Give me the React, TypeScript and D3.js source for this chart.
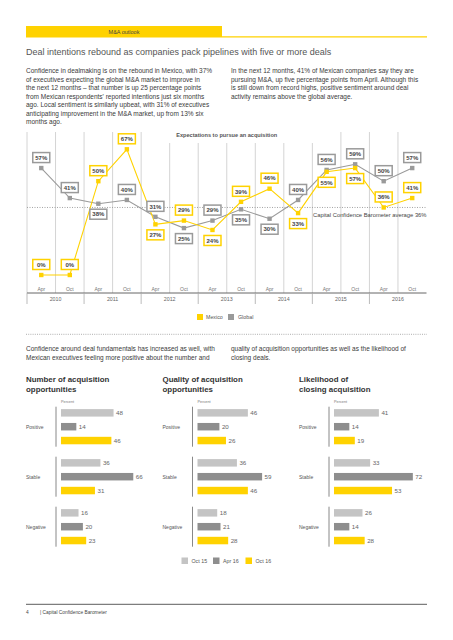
import React from 'react';
import * as d3 from 'd3';

// ---------- DATA ----------
const years = ['2010', '2011', '2012', '2013', '2014', '2015', '2016'];
const months = ['Apr', 'Oct'];
const mexico = [0, 0, 50, 67, 27, 29, 24, 39, 46, 33, 55, 57, 36, 41];
const global = [57, 41, 38, 40, 31, 25, 29, 35, 30, 40, 56, 59, 50, 57];
const averageValue = 36;

const barCategories = ['Positive', 'Stable', 'Negative'];
const barSeries = ['Oct 15', 'Apr 16', 'Oct 16'];
const numberOpp = [[48, 14, 46], [36, 66, 31], [16, 20, 23]];
const qualityOpp = [[46, 20, 26], [36, 59, 46], [18, 21, 28]];
const likelihood = [[41, 14, 19], [33, 72, 53], [26, 14, 28]];
const panelTitles = [
  ['Number of acquisition', 'opportunities'],
  ['Quality of acquisition', 'opportunities'],
  ['Likelihood of', 'closing acquisition'],
];

const para1Left = [
  'Confidence in dealmaking is on the rebound in Mexico, with 37%',
  'of executives expecting the global M&A market to improve in',
  'the next 12 months \u2013 that number is up 25 percentage points',
  "from Mexican respondents' reported intentions just six months",
  'ago. Local sentiment is similarly upbeat, with 31% of executives',
  'anticipating improvement in the M&A market, up from 13% six',
  'months ago.',
];
const para1Right = [
  'In the next 12 months, 41% of Mexican companies say they are',
  'pursuing M&A, up five percentage points from April. Although this',
  'is still down from record highs, positive sentiment around deal',
  'activity remains above the global average.',
];
const para2Left = [
  'Confidence around deal fundamentals has increased as well, with',
  'Mexican executives feeling more positive about the number and',
];
const para2Right = [
  'quality of acquisition opportunities as well as the likelihood of',
  'closing deals.',
];

// label placement (annotation layout)
const mexicoAbove = [1, 1, 1, 1, 0, 1, 0, 1, 1, 0, 0, 0, 1, 1];
const globalAbove = [1, 1, 0, 1, 1, 0, 1, 0, 0, 1, 1, 1, 1, 1];

const YELLOW = '#ffd200';
const GRAY = '#9a9a9a';
const LIGHT = '#c4c4c4';
const DARK = '#8e8e8e';
const TEXT = '#3a3a3a';
const FONT = '"Liberation Sans", Arial, sans-serif';

export default function App() {
  const periods = years.flatMap((y) => months.map((m) => `${m} ${y}`));
  const x0 = 27, x1 = 426.5;
  const xBand = d3.scaleBand<string>().domain(periods).range([x0, x1]).padding(0);
  const bw = xBand.bandwidth();
  const cx = (i: number) => (xBand(periods[i]) as number) + bw / 2;
  const yearBand = d3.scaleBand<string>().domain(years).range([x0, x1]).padding(0);
  const y = d3.scaleLinear().domain([0, 67]).range([275, 149.3]);
  const axisY = 293;

  const lineGen = d3.line<number>().x((_, i) => cx(i)).y((d) => y(d));

  const titleCx = (x0 + x1) / 2;

  const labelBox = (v: number, i: number, above: number, color: string, key: string) => {
    const ly = y(v) + (above ? -10.5 : 10.5);
    return (
      <g key={key}>
        <rect x={cx(i) - 8.5} y={ly - 5} width={17} height={10} fill="#fff" stroke={color} strokeWidth={1.5} />
        <text x={cx(i)} y={ly + 2.2} textAnchor="middle" fontSize={6} fontWeight="bold" fill="#444" fontFamily={FONT}>
          {v}%
        </text>
      </g>
    );
  };

  // bar panels
  const panelData = [numberOpp, qualityOpp, likelihood];
  const axisXs = [56, 192.5, 329];
  const groupBand = d3.scaleBand<string>().domain(barCategories).range([406.7, 546.7]).paddingInner(0.2).paddingOuter(0);
  const gh = groupBand.bandwidth();
  const seriesBand = d3.scaleBand<string>().domain(barSeries).range([0, gh]).paddingInner(0.46).paddingOuter(0.174);
  const barLen = d3.scaleLinear().domain([0, 100]).range([0, 109.5]);
  const seriesColors = [LIGHT, DARK, YELLOW];

  return (
    <svg width={453} height={640} style={{ position: 'absolute', left: 0, top: 0, background: '#fff' }} fontFamily={FONT}>
      {/* header */}
      <rect x={26} y={26} width={196} height={11.5} fill={YELLOW} />
      <line x1={222} x2={427} y1={36.8} y2={36.8} stroke={YELLOW} strokeWidth={1.3} />
      <text x={124} y={34} textAnchor="middle" fontSize={5.5} fill="#444">M&amp;A outlook</text>
      <text x={26} y={54.5} fontSize={9} fill="#555">Deal intentions rebound as companies pack pipelines with five or more deals</text>

      {para1Left.map((t, i) => (
        <text key={'pl' + i} x={26} y={73 + i * 8.5} fontSize={6.5} fill={TEXT}>{t}</text>
      ))}
      {para1Right.map((t, i) => (
        <text key={'pr' + i} x={231} y={73 + i * 8.5} fontSize={6.5} fill={TEXT}>{t}</text>
      ))}

      {/* line chart gridlines */}
      {periods.map((p, i) => {
        const gx = xBand(p) as number;
        const top = gx > 160 && gx < 316 ? 143 : 132;
        return <line key={'g' + i} x1={gx} x2={gx} y1={top} y2={axisY} stroke="#d4d4d4" strokeWidth={1} />;
      })}
      <text x={titleCx} y={136.5} textAnchor="middle" fontSize={5.6} fontWeight="bold" fill="#555">Expectations to pursue an acquisition</text>

      {/* average line */}
      <line x1={x0} x2={x1} y1={y(averageValue)} y2={y(averageValue)} stroke="#999" strokeWidth={0.9} strokeDasharray="1,1.5" />
      <text x={x1} y={y(averageValue) + 9.5} textAnchor="end" fontSize={5.8} fill="#444">Capital Confidence Barometer average {averageValue}%</text>

      {/* x axis */}
      <line x1={x0} x2={x1} y1={axisY} y2={axisY} stroke="#666" strokeWidth={1} />
      {years.map((yr) => {
        const yx = yearBand(yr) as number;
        return (
          <g key={yr}>
            <line x1={yx} x2={yx} y1={axisY} y2={304} stroke="#aaa" strokeWidth={0.8} />
            <text x={yx + yearBand.bandwidth() / 2} y={301} textAnchor="middle" fontSize={5.3} fill="#666">{yr}</text>
          </g>
        );
      })}
      {periods.map((p, i) => (
        <text key={'m' + i} x={cx(i)} y={290.5} textAnchor="middle" fontSize={5} fill="#777">{months[i % 2]}</text>
      ))}

      {/* lines */}
      <path d={lineGen(global) || ''} fill="none" stroke={GRAY} strokeWidth={1.1} />
      <path d={lineGen(mexico) || ''} fill="none" stroke={YELLOW} strokeWidth={1.1} />
      {global.map((v, i) => (
        <rect key={'gp' + i} x={cx(i) - 2.2} y={y(v) - 2.2} width={4.4} height={4.4} fill={GRAY} />
      ))}
      {mexico.map((v, i) => (
        <rect key={'mp' + i} x={cx(i) - 2.2} y={y(v) - 2.2} width={4.4} height={4.4} fill={YELLOW} />
      ))}
      {global.map((v, i) => labelBox(v, i, globalAbove[i], GRAY, 'gl' + i))}
      {mexico.map((v, i) => labelBox(v, i, mexicoAbove[i], YELLOW, 'ml' + i))}

      {/* legend */}
      <rect x={197} y={314} width={6} height={6} fill={YELLOW} />
      <text x={206} y={319.3} fontSize={5.3} fill="#555">Mexico</text>
      <rect x={228} y={314} width={6} height={6} fill={GRAY} />
      <text x={238} y={319.3} fontSize={5.3} fill="#555">Global</text>

      <line x1={26} x2={427} y1={334.3} y2={334.3} stroke="#999" strokeWidth={0.8} strokeDasharray="1,1.2" />

      {para2Left.map((t, i) => (
        <text key={'ql' + i} x={26} y={351.3 + i * 8.7} fontSize={6.5} fill={TEXT}>{t}</text>
      ))}
      {para2Right.map((t, i) => (
        <text key={'qr' + i} x={231} y={351.3 + i * 8.7} fontSize={6.5} fill={TEXT}>{t}</text>
      ))}

      {/* bar panels */}
      {panelData.map((data, pi) => {
        const ax = axisXs[pi];
        const bx = ax + 5;
        return (
          <g key={'panel' + pi}>
            {panelTitles[pi].map((t, li) => (
              <text key={li} x={ax - 30} y={381.5 + li * 10} fontSize={7.9} fontWeight="bold" fill="#333">{t}</text>
            ))}
            <text x={bx} y={402.5} fontSize={3.8} fill="#777">Percent</text>
            {barCategories.map((c, ci) => {
              const gy = groupBand(c) as number;
              return (
                <g key={c}>
                  <line x1={ax} x2={ax} y1={gy} y2={gy + gh} stroke="#888" strokeWidth={1} />
                  <text x={ax - 30} y={gy + gh / 2 + 2} fontSize={5} fill="#555">{c}</text>
                  {barSeries.map((s, si) => {
                    const by = gy + (seriesBand(s) as number);
                    const v = data[ci][si];
                    const w = barLen(v);
                    return (
                      <g key={s}>
                        <rect x={bx} y={by} width={w} height={seriesBand.bandwidth()} fill={seriesColors[si]} />
                        <text x={bx + w + 2.5} y={by + seriesBand.bandwidth() / 2 + 2.3} fontSize={6.2} fill="#666">{v}</text>
                      </g>
                    );
                  })}
                </g>
              );
            })}
          </g>
        );
      })}

      {/* bar legend */}
      {barSeries.map((s, i) => {
        const lx = [181.5, 213, 245.5][i];
        return (
          <g key={'bl' + i}>
            <rect x={lx} y={557.5} width={6.5} height={6.5} fill={seriesColors[i]} />
            <text x={lx + 10} y={563} fontSize={5.3} fill="#555">{s}</text>
          </g>
        );
      })}

      {/* footer */}
      <line x1={26} x2={427} y1={604.3} y2={604.3} stroke="#333" strokeWidth={0.8} />
      <text x={26} y={613.5} fontSize={4.8} fill="#444">4</text>
      <text x={40} y={613.5} fontSize={4.8} fill="#444">|  Capital Confidence Barometer</text>
    </svg>
  );
}
